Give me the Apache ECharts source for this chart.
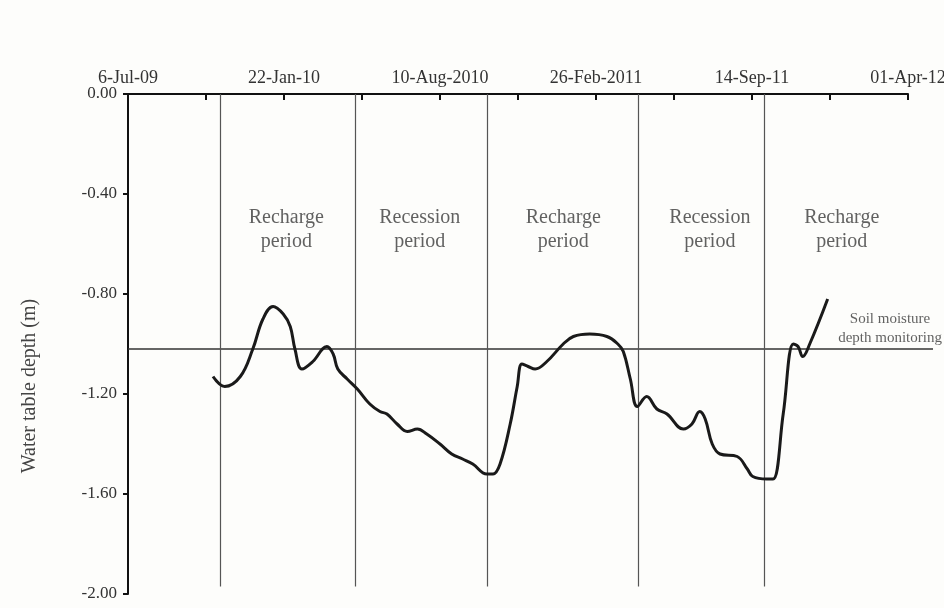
<!DOCTYPE html>
<html><head><meta charset="utf-8">
<script src="https://cdn.jsdelivr.net/npm/echarts@6/dist/echarts.min.js"></script>
<style>html,body{margin:0;padding:0;background:#fdfdfb}#c{width:944px;height:608px}</style>
</head><body><div id="c"></div>
<script>
// Days since 6-Jul-09
const tickLabels = ['6-Jul-09','22-Jan-10','10-Aug-2010','26-Feb-2011','14-Sep-11','01-Apr-12'];
const days = [109,124,144,160,173,186,199,208,214,223,237,255,263,269,281,294,310,323,332,345,358,371,383,400,415,429,442,460,468,477,490,499,505,513,522,537,558,571,592,614,628,635,644,653,665,678,691,712,723,733,740,749,759,781,794,801,819,827,840,853,859,865,874,897];
const depth = [-1.13,-1.17,-1.13,-1.02,-0.90,-0.85,-0.88,-0.93,-1.02,-1.10,-1.07,-1.01,-1.04,-1.10,-1.14,-1.18,-1.24,-1.27,-1.28,-1.32,-1.35,-1.34,-1.36,-1.40,-1.44,-1.46,-1.48,-1.52,-1.52,-1.48,-1.32,-1.17,-1.08,-1.09,-1.10,-1.07,-1.00,-0.97,-0.96,-0.97,-1.00,-1.03,-1.14,-1.25,-1.21,-1.26,-1.28,-1.34,-1.32,-1.27,-1.30,-1.40,-1.44,-1.45,-1.50,-1.53,-1.54,-1.54,-1.28,-1.00,-1.01,-1.05,-1.00,-0.82];
const periodBoundaries = [118, 291, 460, 654, 816];
const periodNames = ['Recharge\nperiod','Recession\nperiod','Recharge\nperiod','Recession\nperiod','Recharge\nperiod'];
const periodCenters = [203, 374, 558, 746, 915];
const soilMoistureDepth = -1.02;
const soilLineEnd = 1032;
const soilLabel = 'Soil moisture\ndepth monitoring';

const serif = '"Liberation Serif","DejaVu Serif",serif';
const chart = echarts.init(document.getElementById('c'));
chart.setOption({
  backgroundColor: '#fdfdfb',
  animation: false,
  grid: [
    {left: 128, right: 36, top: 94, bottom: 14, outerBoundsMode: 'none', containLabel: false},
    {left: 128, right: 11, top: 94, bottom: 14, outerBoundsMode: 'none', containLabel: false}
  ],
  xAxis: [{
    type: 'value', position: 'top', min: 0, max: 1000, interval: 200, gridIndex: 0,
    axisLine: {lineStyle: {color: '#111', width: 2}},
    axisTick: {inside: true, length: 6, lineStyle: {color: '#111', width: 2}},
    minorTick: {show: true, splitNumber: 2, length: 6, lineStyle: {color: '#111', width: 2}},
    splitLine: {show: false},
    axisLabel: {margin: 7, color: '#333', fontFamily: serif, fontSize: 18,
      formatter: v => tickLabels[Math.round(v / 200)] || ''}
  }, {
    type: 'value', gridIndex: 1, min: 0, max: soilLineEnd, show: false
  }],
  yAxis: [{
    type: 'value', min: -2, max: 0, interval: 0.4, gridIndex: 0,
    name: 'Water table depth (m)', nameLocation: 'middle', nameGap: 88,
    nameTextStyle: {color: '#444', fontFamily: serif, fontSize: 20, padding: [0, 84, 0, 0]},
    axisLine: {lineStyle: {color: '#111', width: 2}},
    axisTick: {inside: false, length: 5, lineStyle: {color: '#111', width: 2}},
    splitLine: {show: false},
    axisLabel: {margin: 11, color: '#333', fontFamily: serif, fontSize: 17,
      formatter: v => v.toFixed(2)}
  }, {
    type: 'value', gridIndex: 1, min: -2, max: 0, show: false
  }],
  series: [
    {
      type: 'line', data: days.map((d, i) => [d, depth[i]]),
      smooth: 0.4, showSymbol: false, symbol: 'none',
      lineStyle: {color: '#1a1a1a', width: 3}, z: 5,
      markLine: {
        silent: true, symbol: 'none', label: {show: false},
        lineStyle: {color: '#555', width: 1.2, type: 'solid'},
        data: periodBoundaries.map(b => [{coord: [b, 0]}, {coord: [b, -1.97]}])
      }
    },
    {
      type: 'line', xAxisIndex: 1, yAxisIndex: 1,
      data: [[0, soilMoistureDepth], [soilLineEnd, soilMoistureDepth]],
      showSymbol: false, symbol: 'none',
      lineStyle: {color: '#333', width: 1.5}, z: 3
    },
    {
      type: 'scatter', symbolSize: 0,
      data: periodCenters.map((c, i) => ({value: [c, -0.544], name: periodNames[i]})),
      label: {show: true, position: 'inside', formatter: p => p.name,
        color: '#3a3a3a', fontFamily: serif, fontSize: 20, lineHeight: 24, align: 'center'}
    },
    {
      type: 'scatter', symbolSize: 0, clip: false,
      data: [{value: [977, -0.94], name: soilLabel}],
      label: {show: true, position: 'inside', formatter: p => p.name,
        color: '#3a3a3a', fontFamily: serif, fontSize: 15, lineHeight: 19, align: 'center'}
    }
  ]
});
</script></body></html>
